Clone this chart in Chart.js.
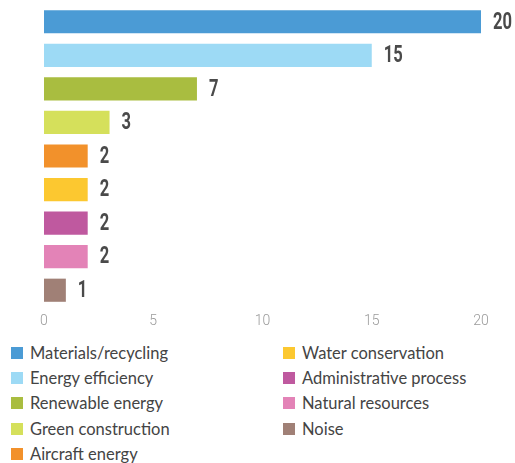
<!DOCTYPE html>
<html>
<head>
<meta charset="utf-8">
<script src="https://cdn.jsdelivr.net/npm/chart.js@4/dist/chart.umd.min.js"></script>
<style>
    body { margin: 0; background: #fff; }
    #wrap { position: relative; width: 515px; height: 335px; }
    #legend {
        display: grid;
        grid-auto-flow: column;
        grid-template-rows: repeat(5, 25.3px);
        grid-template-columns: 272px 220px;
        margin: 5px 0 0 11px;
        font-family: Lato, "Open Sans", sans-serif;
        font-size: 16.5px;
        color: #444;
    }
    .item { display: flex; align-items: center; white-space: nowrap; }
    .box { width: 12px; height: 12px; margin-right: 7px; flex: none; }
</style>
</head>
<body>
<div id="wrap"><canvas id="chart"></canvas></div>
<div id="legend"></div>
<script>
// Categories and counts, top bar first
const categories = [
    "Materials/recycling", "Energy efficiency", "Renewable energy", "Green construction",
    "Aircraft energy", "Water conservation", "Administrative process", "Natural resources", "Noise"
];
const counts = [20, 15, 7, 3, 2, 2, 2, 2, 1];
const colors = [
    "#4b9bd5", "#9ddaf5", "#a9bd40", "#d5e05b",
    "#f2912b", "#fcc830", "#bf599f", "#e383b7", "#a08076"
];
const xTicks = [0, 5, 10, 15, 20];

// Writes the count just past the end of each bar, squeezed sideways
const valueLabels = {
    id: "valueLabels",
    afterDatasetsDraw(chart) {
        const ctx = chart.ctx;
        const meta = chart.getDatasetMeta(0);
        ctx.font = "bold 23px Roboto, sans-serif";
        ctx.fillStyle = "#4a4a4a";
        ctx.textAlign = "left";
        ctx.textBaseline = "middle";
        meta.data.forEach(function(bar, i) {
            ctx.save();
            ctx.translate(bar.x + 12, bar.y + 1);
            ctx.scale(0.72, 1);
            ctx.fillText(String(counts[i]), 0, 0);
            ctx.restore();
        });
    }
};

const chart = new Chart(document.getElementById("chart"), {
    type: "bar",
    data: {
        labels: categories,
        datasets: [{
            data: counts,
            backgroundColor: colors,
            borderWidth: 0,
            categoryPercentage: 0.69,
            barPercentage: 1
        }]
    },
    options: {
        indexAxis: "y",
        responsive: true,
        maintainAspectRatio: false,
        animation: false,
        layout: { padding: { left: 44, right: 34, top: 5, bottom: 0 } },
        plugins: {
            legend: { display: false },
            tooltip: { enabled: false }
        },
        scales: {
            x: {
                min: 0,
                max: 20,
                afterBuildTicks: function(scale) {
                    scale.ticks = xTicks.map(v => ({ value: v }));
                },
                afterFit: function(scale) { scale.height = 28; },
                grid: { display: false },
                border: { display: false },
                ticks: {
                    color: "#9a9a9a",
                    font: { family: "Roboto, sans-serif", size: 14, weight: "300" },
                    padding: -2,
                    maxRotation: 0
                }
            },
            y: { display: false }
        }
    },
    plugins: [valueLabels]
});

// Legend in two columns, filled top to bottom
const legendDiv = document.getElementById("legend");
legendDiv.innerHTML = categories.map(function(name, i) {
    return `<div class="item"><span class="box" style="background:${colors[i]}"></span>${name}</div>`;
}).join("");
</script>
</body>
</html>
